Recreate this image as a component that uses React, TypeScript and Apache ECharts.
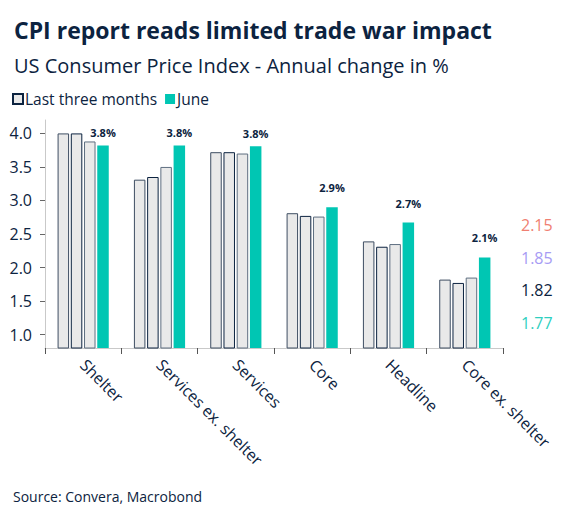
import React, { useEffect, useRef } from "react";
import * as echarts from "echarts";

const categories = ["Shelter", "Services ex. shelter", "Services", "Core", "Headline", "Core ex. shelter"];
const month1 = [4.0, 3.31, 3.72, 2.81, 2.39, 1.82];
const month2 = [4.0, 3.35, 3.72, 2.77, 2.31, 1.77];
const month3 = [3.88, 3.5, 3.7, 2.76, 2.35, 1.85];
const june = [3.82, 3.82, 3.81, 2.9, 2.67, 2.15];
const yTicks = [1.0, 1.5, 2.0, 2.5, 3.0, 3.5, 4.0];
const sideColors = ["#F07F72", "#A79CF4", "#0C2340", "#2ECFC0"];

const FONT = "'Open Sans', 'Noto Sans', sans-serif";
const NAVY = "#0C2340";
const TEAL = "#00C6B3";
const GREY_FILL = "#E9E9E9";

export default function App() {
  const ref = useRef<HTMLDivElement>(null);
  useEffect(() => {
    if (!ref.current) return;
    const chart = echarts.init(ref.current, undefined, { renderer: "svg" });
    const lastIdx = categories.length - 1;
    const sideValues = [month1[lastIdx], month2[lastIdx], month3[lastIdx], june[lastIdx]]
      .slice()
      .sort((a, b) => b - a);

    const greySeries = (data: number[], border: string) => ({
      type: "bar",
      name: "Last three months",
      data,
      barWidth: 11.5,
      barGap: "15%",
      itemStyle: { color: GREY_FILL, borderColor: border, borderWidth: 1 },
    });

    chart.setOption({
      animation: false,
      textStyle: { fontFamily: FONT },
      title: [
        {
          text: "CPI report reads limited trade war impact",
          left: 9,
          top: 13,
          textStyle: { fontFamily: FONT, fontSize: 23, fontWeight: "bold", color: NAVY },
        },
        {
          text: "US Consumer Price Index - Annual change in %",
          left: 9,
          top: 50,
          textStyle: { fontFamily: FONT, fontSize: 20, fontWeight: "normal", color: NAVY },
        },
      ],
      legend: {
        left: 7,
        top: 86,
        itemWidth: 10,
        itemHeight: 10,
        itemGap: 8,
        icon: "rect",
        textStyle: { fontFamily: FONT, fontSize: 15.5, color: NAVY, padding: [0, 0, 0, -3] },
        data: [
          {
            name: "Last three months",
            itemStyle: { color: GREY_FILL, borderColor: NAVY, borderWidth: 2 },
          },
          { name: "June", itemStyle: { color: TEAL } },
        ],
      },
      grid: { left: 45, right: 63, top: 120, bottom: 173, containLabel: false },
      xAxis: {
        type: "category",
        data: categories,
        axisLine: { lineStyle: { color: "#C9C9C9", width: 1 } },
        axisTick: { show: true, length: 6, lineStyle: { color: "#555" } },
        axisLabel: {
          rotate: -45,
          interval: 0,
          margin: 14,
          fontFamily: FONT,
          fontSize: 16,
          color: NAVY,
        },
      },
      yAxis: {
        type: "value",
        min: 0.8,
        max: 4.2,
        splitLine: { show: false },
        axisLine: { show: true, lineStyle: { color: "#C9C9C9", width: 1 } },
        axisTick: { show: true, length: 5, customValues: yTicks, lineStyle: { color: "#666" } },
        axisLabel: {
          customValues: yTicks,
          formatter: (v: number) => v.toFixed(1),
          margin: 13,
          fontFamily: FONT,
          fontSize: 16,
          color: NAVY,
        },
      },
      series: [
        greySeries(month1, "#3E4E62"),
        greySeries(month2, NAVY),
        greySeries(month3, "#5E6E80"),
        {
          type: "bar",
          name: "June",
          barWidth: 11.5,
          barGap: "15%",
          itemStyle: { color: TEAL },
          data: june.map((v) => ({
            value: v,
            label: { distance: v > 3.5 ? 7 : 14 },
          })),
          label: {
            show: true,
            position: "top",
            formatter: (p: any) => `${Number(p.value).toFixed(1)}%`,
            fontFamily: FONT,
            fontSize: 11,
            fontWeight: "bold",
            color: NAVY,
          },
        },
      ],
      graphic: [
        ...sideValues.map((v, i) => ({
          type: "text",
          left: 521,
          top: 217 + i * 32.5,
          style: {
            text: v.toFixed(2),
            fontFamily: FONT,
            fontSize: 16,
            fill: sideColors[i],
          },
        })),
        {
          type: "text",
          left: 13,
          top: 489,
          style: {
            text: "Source: Convera, Macrobond",
            fontFamily: FONT,
            fontSize: 14,
            fill: NAVY,
          },
        },
      ],
    });
    return () => chart.dispose();
  }, []);
  return (
    <div
      ref={ref}
      style={{ position: "fixed", left: 0, top: 0, width: 566, height: 521, background: "#fff" }}
    />
  );
}
